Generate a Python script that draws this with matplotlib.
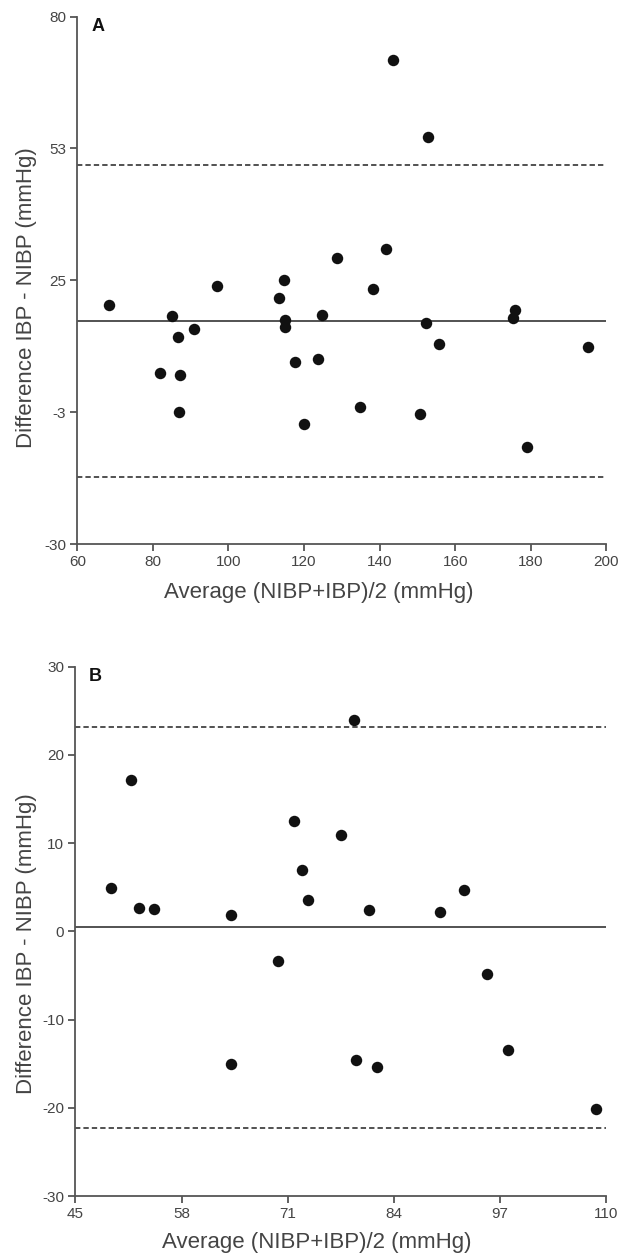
import numpy as np
import matplotlib
matplotlib.use("Agg")
import matplotlib.pyplot as plt

# Panel A: systolic
a_avg = [68.3, 143.6, 152.8, 141.6, 128.8, 114.8, 97.1, 138.3, 113.4, 175.8,
         85.0, 124.8, 114.9, 114.9, 152.4, 175.4, 91.0, 86.7, 155.7, 195.2,
         123.7, 117.5, 81.9, 87.3, 134.9, 86.8, 150.6, 120.0, 178.9]
a_diff = [19.8, 70.9, 54.9, 31.5, 29.7, 25.0, 23.8, 23.3, 21.4, 18.9,
          17.5, 17.7, 16.7, 15.3, 16.1, 17.2, 14.8, 13.2, 11.8, 11.1,
          8.7, 7.9, 5.8, 5.3, -1.4, -2.5, -2.9, -4.9, -9.8]
a_mean, a_upper, a_lower = 16.5, 49.0, -16.0
a_xticks = [60, 80, 100, 120, 140, 160, 180, 200]
a_yticks = [80, 52.5, 25, -2.5, -30]
a_ylabels = ['80', '53', '25', '-3', '-30']

# Panel B: diastolic
b_avg = [79.1, 51.8, 71.8, 77.5, 72.7, 49.4, 92.6, 73.5, 52.8, 54.6,
         81.0, 89.6, 64.0, 69.8, 95.4, 98.0, 79.4, 64.0, 81.9, 108.8]
b_diff = [24.0, 17.1, 12.5, 10.9, 6.9, 4.9, 4.65, 3.6, 2.6, 2.5,
          2.4, 2.2, 1.8, -3.4, -4.8, -13.4, -14.6, -15.0, -15.4, -20.1]
b_mean, b_upper, b_lower = 0.5, 23.2, -22.3
b_xticks = [45, 58, 71, 84, 97, 110]
b_yticks = [30, 20, 10, 0, -10, -20, -30]
b_ylabels = ['30', '20', '10', '0', '-10', '-20', '-30']

plt.rcParams['font.family'] = ['Liberation Sans', 'DejaVu Sans']
grey = '#555555'
tick_font = ['Liberation Sans Narrow', 'Liberation Sans', 'DejaVu Sans']

W, H = 626, 1253
fig = plt.figure(figsize=(W / 100, H / 100), dpi=100)
# axes boxes in pixels: left, top, right, bottom
axA = fig.add_axes([77.3 / W, 1 - 544.3 / H, (606.3 - 77.3) / W, (544.3 - 16.5) / H])
axB = fig.add_axes([75.3 / W, 1 - 1196 / H, (606.3 - 75.3) / W, (1196 - 666.7) / H])


def panel(ax, xs, ys, mean, up, lo, xt, yt, yl, letter, xlab_pos, ylab_pos):
    ax.scatter(xs, ys, s=68, color='#111111', zorder=3, linewidths=0)
    ax.axhline(mean, color='#444444', lw=1.3)
    ax.axhline(up, color='#222222', lw=1.1, ls=(0, (3.5, 2)))
    ax.axhline(lo, color='#222222', lw=1.1, ls=(0, (3.5, 2)))
    ax.set_xlim(xt[0], xt[-1])
    ax.set_ylim(min(yt), max(yt))
    ax.set_xticks(xt)
    ax.set_xticklabels([str(v) for v in xt], family=tick_font)
    ax.set_yticks(yt)
    ax.set_yticklabels(yl, family=tick_font)
    for s in ['top', 'right']:
        ax.spines[s].set_visible(False)
    for s in ['left', 'bottom']:
        ax.spines[s].set_color(grey)
        ax.spines[s].set_linewidth(1.3)
    ax.tick_params(direction='out', length=5, width=1.3, color=grey,
                   labelcolor='#444444', labelsize=11, pad=3)
    ax.set_xlabel('Average (NIBP+IBP)/2 (mmHg)', fontsize=16, color='#444444')
    ax.set_ylabel('Difference IBP - NIBP (mmHg)', fontsize=16, color='#444444')
    ax.xaxis.set_label_coords(*xlab_pos)
    ax.yaxis.set_label_coords(*ylab_pos)
    ax.text(0.026, 0.997, letter, transform=ax.transAxes, fontsize=13,
            fontweight='bold', va='top', ha='left', color='#111111')


panel(axA, a_avg, a_diff, a_mean, a_upper, a_lower, a_xticks, a_yticks, a_ylabels, 'A',
      (0.456, -0.071), (-0.076, 0.468))
panel(axB, b_avg, b_diff, b_mean, b_upper, b_lower, b_xticks, b_yticks, b_ylabels, 'B',
      (0.455, -0.068), (-0.072, 0.477))

fig.savefig('out.png', dpi=100)
